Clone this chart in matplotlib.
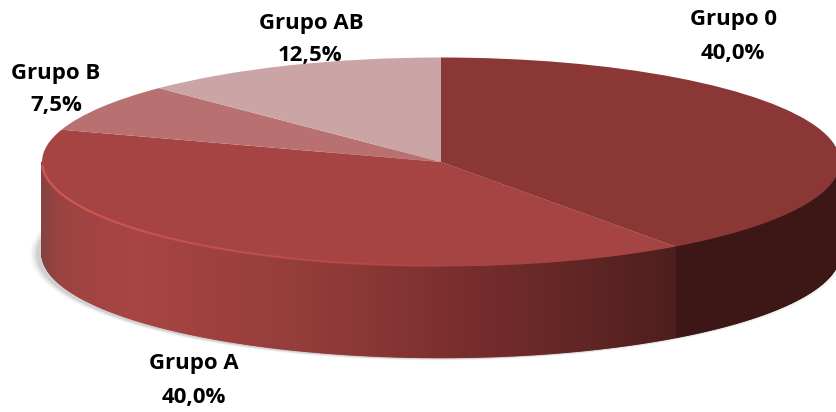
#!/usr/bin/env python3
"""Fake 3D pie: blood groups."""
import numpy as np
import matplotlib
matplotlib.use('Agg')
import matplotlib.pyplot as plt
from matplotlib.collections import PolyCollection, LineCollection
from matplotlib.colors import LinearSegmentedColormap, to_rgb

groups = ['Grupo 0', 'Grupo A', 'Grupo B', 'Grupo AB']
values = [40.0, 40.0, 7.5, 12.5]

top_colors = ['#8a3736', '#a64343', '#b87070', '#cba5a5']
dark_side = '#3d1715'

# pixel geometry of the disc
CX, CY, RX, RY = 441.0, 162.0, 399.0, 104.5
DEPTH = 91.0
W, H = 836, 412

# label centres in pixels (name line, value line)
label_pos = [((733, 20), (733, 53)), ((194, 364), (194, 397)),
             ((56, 73), (56, 106)), ((311, 23), (310, 55))]

plt.rcParams['font.family'] = ['Open Sans', 'DejaVu Sans']


def ux(px):
    return (np.asarray(px, dtype=float) - CX) / RX


def uy(py):
    return (CY - np.asarray(py, dtype=float)) / RY


fig = plt.figure(figsize=(W / 100, H / 100), dpi=100)
ax = fig.add_axes([0, 0, 1, 1])

# soft shadow under the disc
d = DEPTH / RY
t = np.linspace(0, 2 * np.pi, 300)
for grow, a in zip([8, 6, 4, 2], [0.04, 0.06, 0.08, 0.12]):
    ax.fill(((RX + grow) * np.sin(t) - 4) / RX,
            uy(CY + DEPTH + 1 + (RY + grow * 0.25) * np.cos(t)),
            color='#555555', alpha=a, lw=0, zorder=1)

# side wall, front half only
bounds = 360 * np.cumsum([0] + values) / sum(values)
grad = LinearSegmentedColormap.from_list('side', [
    (0.00, '#8a4240'), (0.03, '#9c4341'), (0.14, '#a84444'), (0.33, '#9a3f3d'),
    (0.47, '#8f3a38'), (0.63, '#7d2f2f'), (0.80, '#672827'), (1.00, '#4e1e1c')])
th = np.radians(np.linspace(90, 270, 721))
polys, cols = [], []
x_left = CX - RX
x_end = CX + RX * np.sin(np.radians(bounds[1]))
for a, b in zip(th[:-1], th[1:]):
    xa, xb = np.sin(a), np.sin(b)
    ya, yb = np.cos(a), np.cos(b)
    polys.append([(xa, ya), (xb, yb), (xb, yb - d), (xa, ya - d)])
    if np.degrees(a) < bounds[1]:
        cols.append(to_rgb(dark_side))
    else:
        f = (CX + RX * xa - x_left) / (x_end - x_left)
        cols.append(grad(f)[:3])
ax.add_collection(PolyCollection(polys, facecolors=cols, edgecolors=cols,
                                 linewidths=1.0, zorder=2))

# top face
wedges, _ = ax.pie(values, colors=top_colors, startangle=90, counterclock=False,
                   radius=1, center=(0, 0), frame=True,
                   wedgeprops={'linewidth': 0, 'zorder': 3})

# light rim along the front of Grupo A
rim_t = np.radians(np.linspace(268, 180, 300))
rx_, ry_ = np.sin(rim_t), np.cos(rim_t) + 0.004
pts = np.column_stack([rx_, ry_])
segs = np.stack([pts[:-1], pts[1:]], axis=1)
fade = np.linspace(1.0, 0.15, len(segs))
rim_cols = [(0.88, 0.38, 0.35, a) for a in fade]
ax.add_collection(LineCollection(segs, colors=rim_cols, linewidths=1.6, zorder=4))

# labels
for name, val, (p1, p2) in zip(groups, values, label_pos):
    txt = f'{val:.1f}%'.replace('.', ',')
    ax.text(ux(p1[0]), uy(p1[1]), name, ha='center', va='center',
            fontsize=16, fontweight='bold', color='black', zorder=2)
    ax.text(ux(p2[0]), uy(p2[1]), txt, ha='center', va='center',
            fontsize=16, fontweight='bold', color='black', zorder=2)

ax.set_aspect('auto')
ax.set_xlim(ux(0), ux(W))
ax.set_ylim(uy(H), uy(0))
ax.axis('off')

fig.savefig('out.png', dpi=100)
plt.close(fig)
